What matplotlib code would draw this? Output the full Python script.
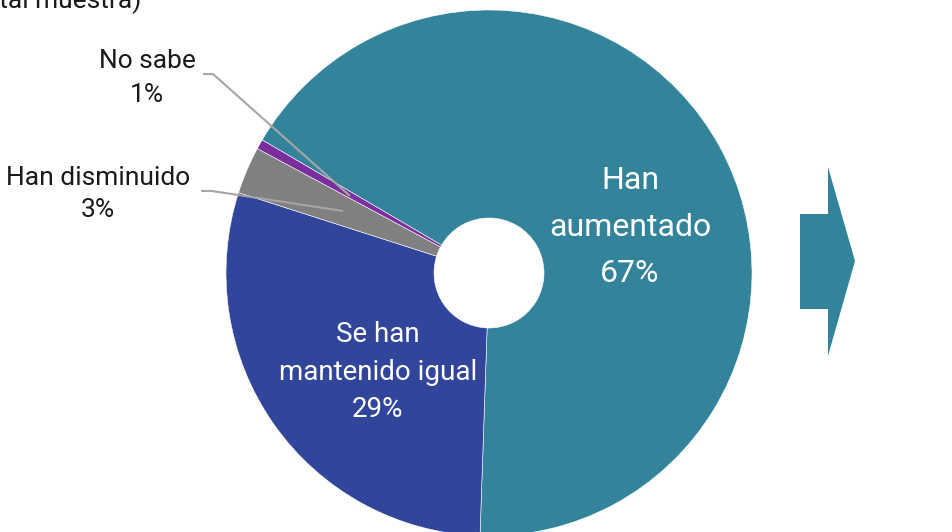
import matplotlib
matplotlib.use("Agg")
import matplotlib.pyplot as plt
from matplotlib.patches import Polygon

categories = ["Han aumentado", "Se han mantenido igual", "Han disminuido", "No sabe"]
values = [67.1, 29.4, 2.9, 0.6]
colors = ["#33849B", "#31459A", "#808080", "#7B2E9E"]
title_text = "(% total muestra)"

W, H = 953, 532
plt.rcParams['font.family'] = ['Roboto', 'DejaVu Sans']
fig = plt.figure(figsize=(W / 100, H / 100), dpi=100)
ax = fig.add_axes([0, 0, 1, 1])

def py(y):
    return H - y

cx, cy, R = 489, py(273), 263
wedges, _ = ax.pie(values, colors=colors, startangle=149.6, counterclock=False,
                   center=(cx, cy), radius=R, frame=True,
                   wedgeprops=dict(width=R - 55, edgecolor='white', linewidth=0.4))
ax.set_xlim(0, W)
ax.set_ylim(0, H)
ax.set_aspect('equal')
ax.axis('off')

def pct(v):
    return f"{round(v):.0f}%"

# inside labels
ax.text(630, py(227), f"Han\naumentado\n{pct(values[0])}", color='white', fontsize=23,
        ha='center', va='center', linespacing=1.75)
ax.text(378, py(372), f"Se han\nmantenido igual\n{pct(values[1])}", color='white', fontsize=20,
        ha='center', va='center', linespacing=1.5)

# outside labels
ax.text(147, py(78), f"No sabe\n{pct(values[3])}", color='#1a1a1a', fontsize=19,
        ha='center', va='center', linespacing=1.55)
ax.text(98, py(194), f"Han disminuido\n{pct(values[2])}", color='#1a1a1a', fontsize=19,
        ha='center', va='center', linespacing=1.45)

lc = '#A6A6A6'
ax.plot([203, 213, 350], [py(74), py(74), py(196)], color=lc, lw=1.5, solid_capstyle='butt')
ax.plot([201, 212, 343], [py(191), py(191), py(211)], color=lc, lw=1.5, solid_capstyle='butt')

# title (cropped at top, as in the reference)
ax.text(141, py(8), title_text, color='#1a1a1a', fontsize=19, ha='right', va='baseline')

# arrow
arrow = Polygon([(800, py(214)), (828, py(214)), (828, py(167)), (855, py(261)),
                 (828, py(356)), (828, py(309)), (800, py(309))],
                closed=True, facecolor=colors[0], edgecolor='none')
ax.add_patch(arrow)

fig.savefig("out.png", dpi=100)
